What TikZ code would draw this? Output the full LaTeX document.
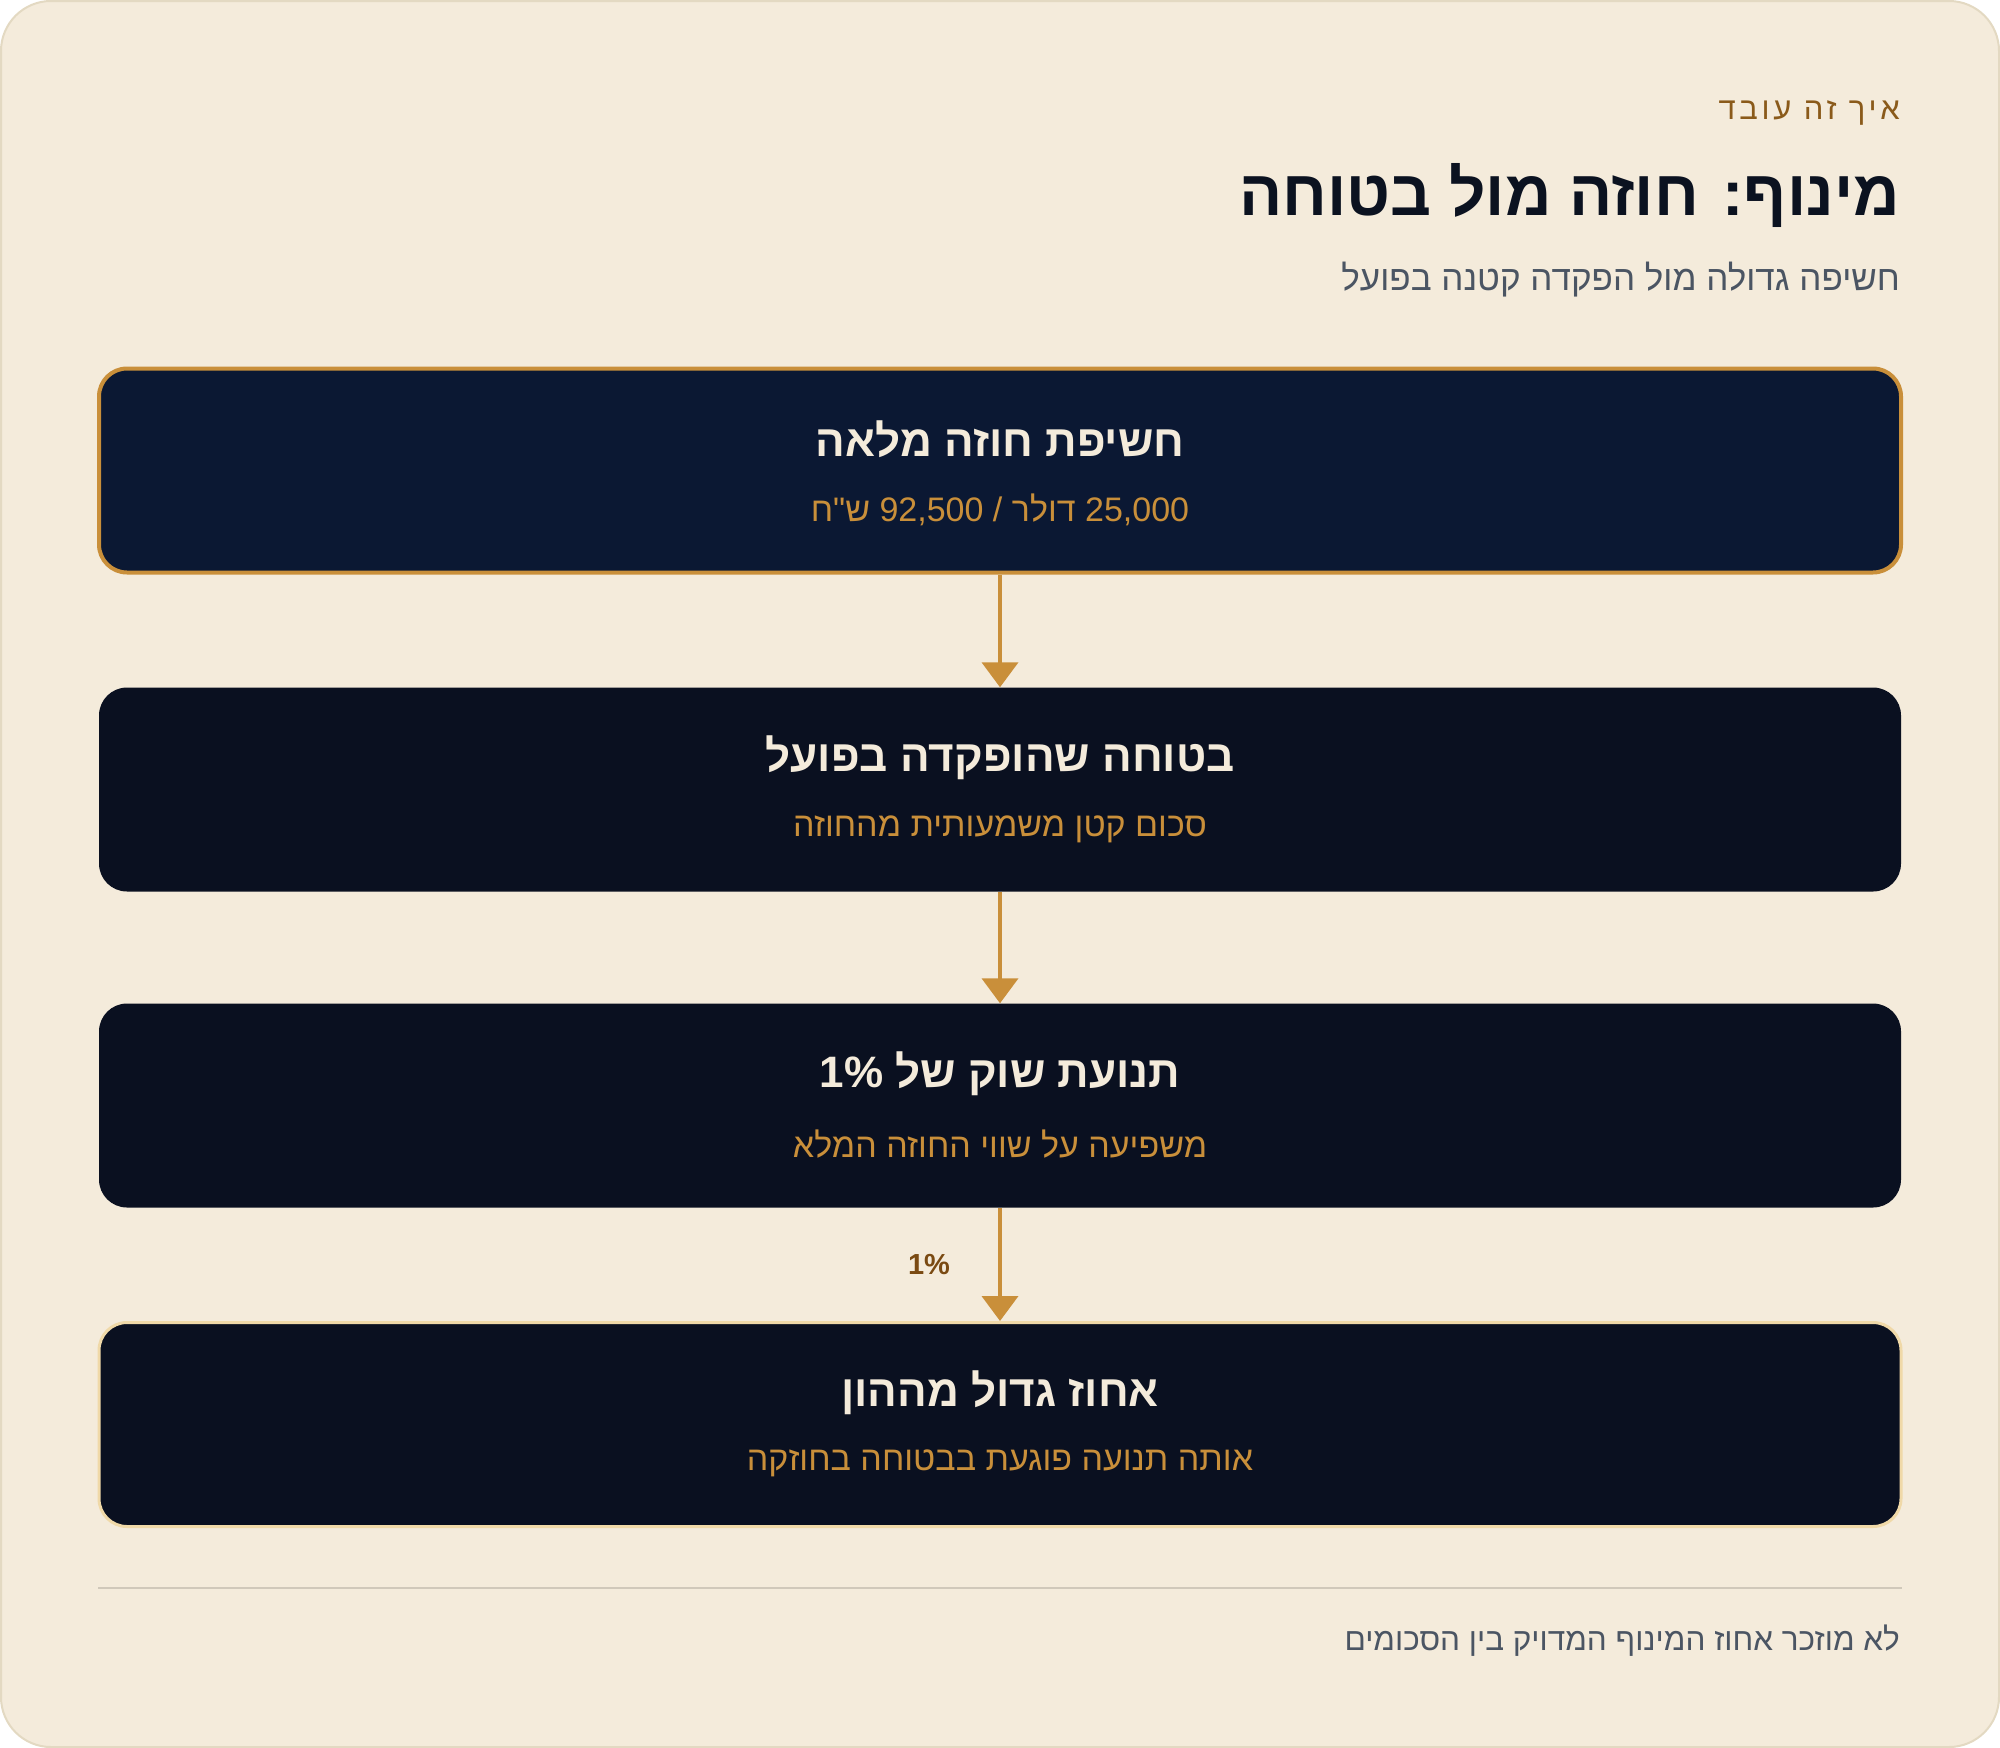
\documentclass[tikz,border=0pt]{standalone}
\usepackage{fontspec}
\usetikzlibrary{arrows.meta}
\TeXXeTstate=1
\newfontfamily\hb[Script=Hebrew]{Liberation Sans}
\newfontfamily\hbls[Script=Hebrew,LetterSpace=12]{Liberation Sans}
\definecolor{cardbg}{HTML}{F4EBDB}
\definecolor{cardline}{HTML}{E3D9C2}
\definecolor{navyA}{HTML}{0B1833}
\definecolor{navyB}{HTML}{0A1020}
\definecolor{gold}{HTML}{C98F3A}
\definecolor{lightgold}{HTML}{F0D9A8}
\definecolor{brown}{HTML}{8A5A1A}
\definecolor{darkbrown}{HTML}{7A4A12}
\definecolor{ink}{HTML}{0B1220}
\definecolor{slate}{HTML}{4B5563}
\definecolor{rule}{HTML}{D0C8BA}
\tikzset{
  stepbox/.style={rectangle, rounded corners=28pt, minimum width=1802pt, minimum height=204pt, fill=navyB, draw=none, inner sep=0pt},
  boxtitle/.style={text=cardbg, font=\hb\bfseries\fontsize{44}{50}\selectfont, inner sep=0pt},
  boxsub/.style={text=gold, font=\hb\fontsize{34}{40}\selectfont, inner sep=0pt},
  flow/.style={draw=gold, line width=4pt, -{Triangle[width=36pt,length=25pt]}},
  headtext/.style={anchor=east, inner sep=0pt}
}
\begin{document}
\begin{tikzpicture}[x=1pt,y=-1pt]
\useasboundingbox (0,0) rectangle (2000,1748);
\draw[fill=cardbg, draw=cardline, line width=2pt, rounded corners=50pt] (1,1) rectangle (1999,1747);

\node[headtext, text=brown, font=\hbls\fontsize{31}{36}\selectfont] (kicker) at (1900,113) {\beginR איך זה עובד\endR};
\node[headtext, text=ink, font=\hb\bfseries\fontsize{64}{72}\selectfont] (title) at (1900,195) {\beginR מינוף: חוזה מול בטוחה\endR};
\node[headtext, text=slate, font=\hb\fontsize{35}{40}\selectfont] (subtitle) at (1900,280) {\beginR חשיפה גדולה מול הפקדה קטנה בפועל\endR};

\node[stepbox, fill=navyA, draw=gold, line width=4pt] (b1) at (1000,470.5) {};
\node[boxtitle] (b1t) at (1000,439) {\beginR חשיפת חוזה מלאה\endR};
\node[boxsub] (b1s) at (1000,510) {\beginR\beginL 25,000\endL{} דולר / \beginL 92,500\endL{} ש"ח\endR};

\node[stepbox] (b2) at (1000,789.5) {};
\node[boxtitle] (b2t) at (1000,757.5) {\beginR בטוחה שהופקדה בפועל\endR};
\node[boxsub] (b2s) at (1000,829) {\beginR סכום קטן משמעותית מהחוזה\endR};

\node[stepbox] (b3) at (1000,1105.5) {};
\node[boxtitle] (b3t) at (1000,1073.5) {\beginR תנועת שוק של \beginL 1\%\endL\endR};
\node[boxsub] (b3s) at (1000,1144) {\beginR משפיעה על שווי החוזה המלא\endR};

\node[stepbox, draw=lightgold, line width=3pt] (b4) at (1000,1424.5) {};
\node[boxtitle] (b4t) at (1000,1392.5) {\beginR אחוז גדול מההון\endR};
\node[boxsub] (b4s) at (1000,1463) {\beginR אותה תנועה פוגעת בבטוחה בחוזקה\endR};

\draw[flow] (b1.south) -- (b2.north);
\draw[flow] (b2.south) -- (b3.north);
\draw[flow] (b3.south) -- node[left=48pt, text=darkbrown, font=\hb\bfseries\fontsize{29}{34}\selectfont, inner sep=0pt] (pct) {1\%} (b4.north);

\coordinate (ruleL) at (98,1588);
\coordinate (ruleR) at (1902,1588);
\draw[draw=rule, line width=2pt] (ruleL) -- (ruleR);
\node[headtext, text=slate, font=\hb\fontsize{31.5}{37}\selectfont] (foot) at (1900,1641) {\beginR לא מוזכר אחוז המינוף המדויק בין הסכומים\endR};
\end{tikzpicture}
\end{document}
